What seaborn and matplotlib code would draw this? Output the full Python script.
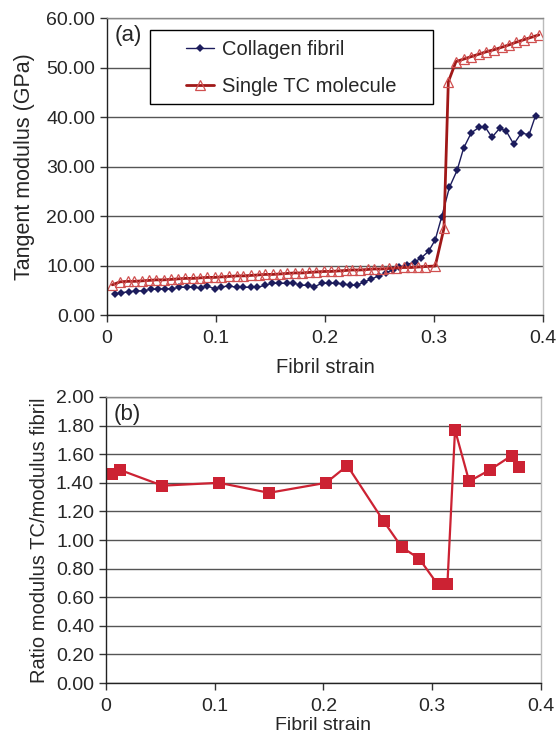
import matplotlib
matplotlib.use("Agg")
import matplotlib.pyplot as plt
from matplotlib.patches import Rectangle
import numpy as np
import pandas as pd
import seaborn as sns

# panel (a): tangent modulus vs fibril strain
fibril_strain = [0.007, 0.013, 0.020, 0.027, 0.034, 0.040, 0.047, 0.053, 0.060, 0.066,
                 0.073, 0.080, 0.086, 0.092, 0.099, 0.105, 0.112, 0.119, 0.125, 0.132,
                 0.138, 0.145, 0.151, 0.158, 0.165, 0.171, 0.177, 0.184, 0.190, 0.197,
                 0.204, 0.210, 0.216, 0.223, 0.229, 0.236, 0.242, 0.249, 0.256, 0.262,
                 0.268, 0.275, 0.282, 0.288, 0.295, 0.301, 0.307, 0.314, 0.321, 0.327,
                 0.334, 0.341, 0.347, 0.353, 0.360, 0.366, 0.373, 0.380, 0.387, 0.393]
fibril_modulus = [4.2, 4.5, 4.7, 4.85, 4.9, 5.2, 5.2, 5.3, 5.3, 5.6,
                  5.6, 5.6, 5.45, 5.85, 5.3, 5.7, 5.85, 5.6, 5.6, 5.6,
                  5.6, 6.0, 6.4, 6.4, 6.4, 6.5, 6.0, 6.0, 5.7, 6.4,
                  6.4, 6.4, 6.3, 6.0, 6.0, 6.7, 7.2, 7.9, 8.55, 9.1,
                  9.6, 10.2, 10.7, 11.5, 12.9, 15.2, 19.9, 25.8, 29.2, 33.7,
                  36.8, 37.9, 37.9, 35.9, 37.7, 37.2, 34.5, 36.8, 36.4, 40.3]

tc_strain = [0.005, 0.012, 0.019, 0.025, 0.032, 0.039, 0.045, 0.052, 0.059, 0.065,
             0.072, 0.079, 0.085, 0.092, 0.099, 0.105, 0.112, 0.119, 0.125, 0.132,
             0.139, 0.145, 0.152, 0.159, 0.165, 0.172, 0.179, 0.185, 0.192, 0.199,
             0.205, 0.212, 0.219, 0.225, 0.232, 0.239, 0.245, 0.252, 0.259, 0.265,
             0.272, 0.279, 0.285, 0.292, 0.301, 0.309, 0.313, 0.320, 0.327, 0.334,
             0.341, 0.348, 0.355, 0.362, 0.369, 0.375, 0.382, 0.389, 0.396]
tc_modulus = [6.1, 6.7, 6.8, 6.8, 6.9, 7.0, 7.1, 7.1, 7.2, 7.3,
              7.4, 7.4, 7.5, 7.6, 7.6, 7.7, 7.8, 7.9, 7.9, 8.0,
              8.1, 8.2, 8.2, 8.3, 8.4, 8.5, 8.5, 8.6, 8.7, 8.8,
              8.8, 8.9, 9.0, 9.1, 9.1, 9.2, 9.3, 9.3, 9.4, 9.5,
              9.6, 9.6, 9.7, 9.8, 9.9, 17.5, 47.1, 51.2, 51.7, 52.2,
              52.7, 53.2, 53.6, 54.1, 54.6, 55.1, 55.6, 56.1, 56.6]

# panel (b): ratio TC / fibril
ratio_strain = [0.006, 0.013, 0.052, 0.104, 0.150, 0.2025, 0.222, 0.2555, 0.272,
                0.288, 0.305, 0.314, 0.321, 0.334, 0.353, 0.373, 0.380]
ratio_value = [1.46, 1.49, 1.38, 1.40, 1.33, 1.40, 1.52, 1.13, 0.95,
               0.87, 0.69, 0.69, 1.77, 1.41, 1.49, 1.59, 1.51]

x_ticks = [0, 0.1, 0.2, 0.3, 0.4]
x_ticklabels = ['0', '0.1', '0.2', '0.3', '0.4']

sns.set_theme(style="white")
plt.rcParams['font.family'] = ['Liberation Sans', 'DejaVu Sans']

fig = plt.figure(figsize=(5.6, 7.36), dpi=100)
ax1 = fig.add_axes([0.191, 0.572, 0.779, 0.4035])
ax2 = fig.add_axes([0.189, 0.072, 0.777, 0.3886])

df_f = pd.DataFrame({"strain": fibril_strain, "modulus": fibril_modulus})
df_t = pd.DataFrame({"strain": tc_strain, "modulus": tc_modulus})
df_r = pd.DataFrame({"strain": ratio_strain, "ratio": ratio_value})

grid_kw = dict(color='#555555', linewidth=1.0)

# --- (a)
ax1.set_axisbelow(True)
ax1.yaxis.grid(True, **grid_kw)
sns.lineplot(ax=ax1, data=df_f, x="strain", y="modulus", color='#1c1c5c', linewidth=1.0,
             marker='D', markersize=4, markeredgewidth=0, label='Collagen fibril', legend=False)
sns.lineplot(ax=ax1, data=df_t, x="strain", y="modulus", color='#a01818', linewidth=2.0,
             marker='^', markersize=6.5, markerfacecolor='none', markeredgecolor='#d05050',
             markeredgewidth=0.9, label='Single TC molecule', legend=False)
ax1.set_xlim(0, 0.4)
ax1.set_ylim(0, 60)
ax1.set_yticks(np.arange(0, 61, 10))
ax1.set_yticklabels([f"{v:.2f}" for v in np.arange(0, 61, 10)])
ax1.set_xticks(x_ticks)
ax1.set_xticklabels(x_ticklabels)
ax1.set_xlabel('Fibril strain', fontsize=14.5, labelpad=8)
ax1.set_ylabel('Tangent modulus (GPa)', fontsize=15.5, labelpad=8)
ax1.text(0.018, 0.975, '(a)', transform=ax1.transAxes, fontsize=16, va='top', ha='left')

# legend box drawn as a figure patch, legend placed on top of it
fig.add_artist(Rectangle((150 / 560, 1 - 104 / 736), 283 / 560, 74 / 736,
                         transform=fig.transFigure, facecolor='white',
                         edgecolor='black', linewidth=1.0, zorder=3))
handles, labels = ax1.get_legend_handles_labels()
fig.legend(handles, labels, loc='center left', bbox_to_anchor=(186 / 560, 1 - 68 / 736),
           bbox_transform=fig.transFigure, fontsize=14.5, frameon=False,
           borderpad=0, borderaxespad=0, handlelength=1.4, handletextpad=0.4,
           labelspacing=0.85).set_zorder(4)

# --- (b)
ax2.set_axisbelow(True)
ax2.yaxis.grid(True, **grid_kw)
sns.lineplot(ax=ax2, data=df_r, x="strain", y="ratio", color='#cc2233', linewidth=1.6,
             marker='s', markersize=9, markeredgewidth=0)
ax2.set_xlim(0, 0.4)
ax2.set_ylim(0, 2.0)
ax2.set_yticks(np.arange(0, 2.01, 0.2))
ax2.set_yticklabels([f"{v:.2f}" for v in np.arange(0, 2.01, 0.2)])
ax2.set_xticks(x_ticks)
ax2.set_xticklabels(x_ticklabels)
ax2.set_ylabel('Ratio modulus TC/modulus fibril', fontsize=14.5, labelpad=5)
ax2.text(0.018, 0.975, '(b)', transform=ax2.transAxes, fontsize=16, va='top', ha='left')

for ax in (ax1, ax2):
    ax.tick_params(axis='both', labelsize=14, direction='out', length=5, width=1,
                   color='#333333', left=True, bottom=True)
    ax.tick_params(axis='x', pad=6)
    ax.spines['left'].set_color('#222222')
    ax.spines['bottom'].set_color('#222222')
    ax.spines['top'].set_color('#888888')
    ax.spines['right'].set_color('#bbbbbb')
    for s in ax.spines.values():
        s.set_linewidth(1.0)

ax2.set_xlabel('Fibril strain', fontsize=14, labelpad=1)

fig.savefig('out.png', dpi=100)
